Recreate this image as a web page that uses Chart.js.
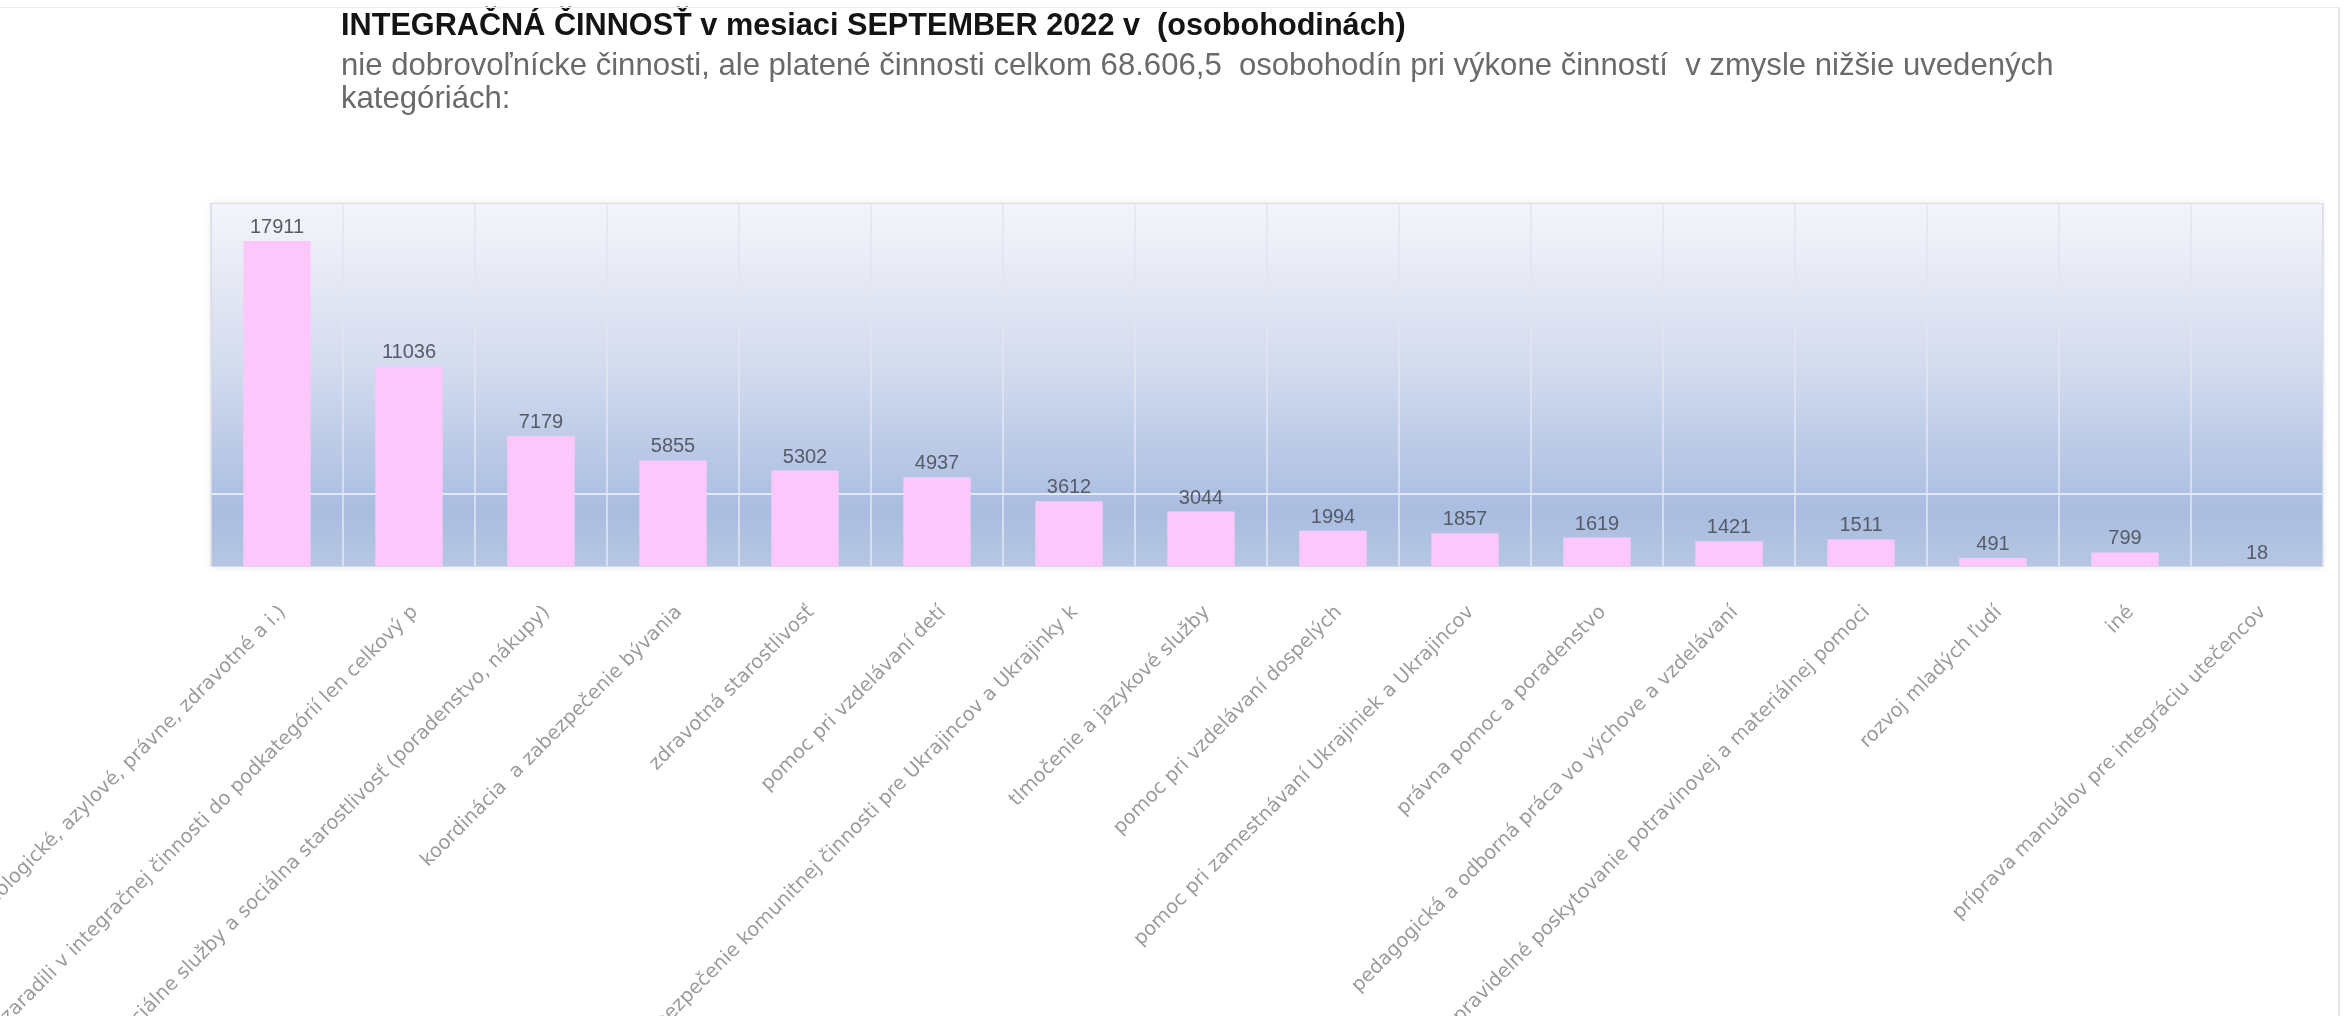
<!DOCTYPE html>
<html>
<head>
<meta charset="utf-8">
<script src="https://cdn.jsdelivr.net/npm/chart.js@4.4.0/dist/chart.umd.min.js"></script>
<style>
html,body{margin:0;padding:0;background:#fff;}
#wrap{position:relative;width:2348px;height:1016px;overflow:hidden;background:#fff;}
#frame{position:absolute;left:0;top:7px;width:2340px;height:1009px;border-top:1px solid #eeeeee;border-right:2px solid #e6e6e6;box-sizing:border-box;pointer-events:none;}
.txt{position:absolute;left:341px;white-space:pre;line-height:1;font-family:"Liberation Sans",Arial,sans-serif;}
#title{font-weight:bold;color:#141414;}
.sub{color:#6a6a6a;}
#chart{position:absolute;left:0;top:0;}
</style>
</head>
<body>
<div id="wrap">
  <canvas id="chart" width="2348" height="1016"></canvas>
  <div id="title" class="txt">INTEGRAČNÁ ČINNOSŤ v mesiaci SEPTEMBER 2022 v  (osobohodinách)</div>
  <div id="sub1" class="txt sub">nie dobrovoľnícke činnosti, ale platené činnosti celkom 68.606,5  osobohodín pri výkone činností  v zmysle nižšie uvedených</div>
  <div id="sub2" class="txt sub">kategóriách:</div>
  <div id="frame"></div>
</div>
<script>
// ---- data ----
const categories = [
  "poradenstvo (psychologické, azylové, právne, zdravotné a i.)",
  "činnosti, ktoré sa nezaradili v integračnej činnosti do podkategórií len celkový p",
  "sociálne služby a sociálna starostlivosť (poradenstvo, nákupy)",
  "koordinácia  a zabezpečenie bývania",
  "zdravotná starostlivosť",
  "pomoc pri vzdelávaní detí",
  "zabezpečenie komunitnej činnosti pre Ukrajincov a Ukrajinky k",
  "tlmočenie a jazykové služby",
  "pomoc pri vzdelávaní dospelých",
  "pomoc pri zamestnávaní Ukrajiniek a Ukrajincov",
  "právna pomoc a poradenstvo",
  "pedagogická a odborná práca vo výchove a vzdelávaní",
  "pravidelné poskytovanie potravinovej a materiálnej pomoci",
  "rozvoj mladých ľudí",
  "iné",
  "príprava manuálov pre integráciu utečencov"
];
const hours = [17911, 11036, 7179, 5855, 5302, 4937, 3612, 3044, 1994, 1857, 1619, 1421, 1511, 491, 799, 18];
const yMin = 0;
const yMax = 20000;
const yStep = 4000;
const highlightGrid = 4000;

// ---- header text fitting ----
function fitText(id, targetWidth, baseSize, baseline) {
  const el = document.getElementById(id);
  el.style.fontSize = baseSize + 'px';
  const w = el.getBoundingClientRect().width;
  const fs = baseSize * targetWidth / w;
  el.style.fontSize = fs.toFixed(2) + 'px';
  el.style.top = (baseline - 0.8465 * fs).toFixed(1) + 'px';
  return fs;
}
const fsSub = fitText('sub1', 1713, 27, 75);
fitText('title', 1065, 27, 35);
const s2 = document.getElementById('sub2');
s2.style.fontSize = fsSub.toFixed(2) + 'px';
s2.style.top = (108 - 0.8465 * fsSub).toFixed(1) + 'px';

// ---- plugins ----
const plotBackground = {
  id: 'plotBackground',
  beforeDraw(chart) {
    const {ctx, chartArea: a} = chart;
    const g = ctx.createLinearGradient(0, a.top, 0, a.bottom);
    g.addColorStop(0.00, '#f4f5fb');
    g.addColorStop(0.12, '#eceef7');
    g.addColorStop(0.45, '#d3dbee');
    g.addColorStop(0.70, '#b9c8e6');
    g.addColorStop(0.85, '#a9bde0');
    g.addColorStop(1.00, '#b6c7e2');
    ctx.save();
    ctx.shadowColor = 'rgba(0,0,0,0.10)';
    ctx.shadowBlur = 6;
    ctx.fillStyle = g;
    ctx.fillRect(a.left, a.top, a.right - a.left, a.bottom - a.top);
    ctx.restore();
  },
  afterDraw(chart) {
    const {ctx, chartArea: a} = chart;
    ctx.save();
    ctx.strokeStyle = 'rgba(215,218,230,0.9)';
    ctx.lineWidth = 1;
    ctx.strokeRect(a.left + 0.5, a.top + 0.5, a.right - a.left - 1, a.bottom - a.top - 1);
    ctx.restore();
  }
};

const valueLabels = {
  id: 'valueLabels',
  afterDatasetsDraw(chart) {
    const {ctx} = chart;
    const meta = chart.getDatasetMeta(0);
    ctx.save();
    ctx.font = '20px "Liberation Sans", Arial, sans-serif';
    ctx.fillStyle = '#565b68';
    ctx.textAlign = 'center';
    ctx.textBaseline = 'alphabetic';
    meta.data.forEach((el, i) => {
      ctx.fillText(String(chart.data.datasets[0].data[i]), el.x, el.y - 8);
    });
    ctx.restore();
  }
};

new Chart(document.getElementById('chart'), {
  type: 'bar',
  data: {
    labels: categories,
    datasets: [{
      data: hours,
      backgroundColor: '#fcc8fb',
      borderWidth: 0,
      barPercentage: 0.51,
      categoryPercentage: 1.0
    }]
  },
  options: {
    responsive: false,
    animation: false,
    devicePixelRatio: 1,
    layout: {padding: {left: 211, right: 25, top: 203, bottom: 0}},
    plugins: {legend: {display: false}, title: {display: false}, tooltip: {enabled: false}},
    scales: {
      x: {
        border: {display: false},
        grid: {offset: true, color: 'rgba(226,229,240,0.8)', lineWidth: 2, drawTicks: false, tickLength: 0},
        ticks: {
          autoSkip: false,
          minRotation: 45,
          maxRotation: 45,
          color: '#9c9c9c',
          font: {family: '"DejaVu Sans", sans-serif', size: 19.5},
          padding: 34,
          labelOffset: 6
        },
        afterFit(scale) {
          scale.height = 449;
          scale.paddingLeft = 0;
          scale.paddingRight = 0;
        }
      },
      y: {
        min: yMin,
        max: yMax,
        border: {display: false},
        ticks: {display: false, stepSize: yStep},
        grid: {
          drawTicks: false,
          lineWidth: 2,
          color: (c) => (c.tick && c.tick.value === highlightGrid) ? 'rgba(228,236,252,0.95)' : 'rgba(0,0,0,0)'
        },
        afterFit(scale) { scale.width = 0; }
      }
    }
  },
  plugins: [plotBackground, valueLabels]
});
</script>
</body>
</html>
